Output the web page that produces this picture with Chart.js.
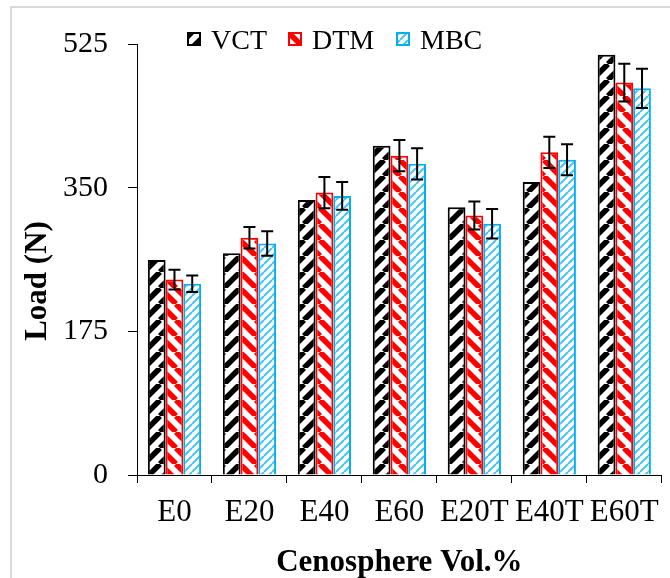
<!DOCTYPE html>
<html>
<head>
<meta charset="utf-8">
<script src="https://cdn.jsdelivr.net/npm/chart.js@4"></script>
<style>
  html, body { margin: 0; padding: 0; background: #fff; }
  #wrap { position: relative; width: 670px; height: 578px; overflow: hidden; }
  #frame { position: absolute; left: 10px; top: 6px; width: 700px; height: 620px; border: 2px solid #d9d9d9; }
  #chart { position: absolute; left: 0; top: 0; }
</style>
</head>
<body>
<div id="wrap">
  <div id="frame"></div>
  <canvas id="chart" width="670" height="578"></canvas>
</div>
<script>
// データ
const categories = ['E0', 'E20', 'E40', 'E60', 'E20T', 'E40T', 'E60T'];
const seriesNames = ['VCT', 'DTM', 'MBC'];
const vct = [262, 270, 335, 401, 326, 357, 512];
const dtm = [238, 289, 344, 389, 316, 393, 478];
const mbc = [233, 282, 340, 379, 306, 384, 471];
const dtmErr = [12, 13, 19, 19, 17, 19, 23];
const mbcErr = [10, 15, 17, 19, 18, 19, 24];
const yTicks = [0, 175, 350, 525];

// ハッチパターン
function makePattern(size, color, dir, lw) {
  const c = document.createElement('canvas');
  c.width = c.height = size;
  const g = c.getContext('2d');
  g.fillStyle = '#fff';
  g.fillRect(0, 0, size, size);
  g.strokeStyle = color;
  g.lineWidth = lw;
  for (let k = -1; k <= 1; k++) {
    g.beginPath();
    if (dir === '/') { g.moveTo(k * size, size); g.lineTo(k * size + size, 0); }
    else { g.moveTo(k * size, 0); g.lineTo(k * size + size, size); }
    g.stroke();
  }
  return g.createPattern(c, 'repeat');
}

const ctx = document.getElementById('chart').getContext('2d');
const patVCT = makePattern(16, '#000', '/', 5.5);
const patDTM = makePattern(16, '#ff0000', '\\', 5.5);
const patMBC = makePattern(8, '#4cc3f2', '/', 2);

const FONT = "'Liberation Serif', 'Times New Roman', serif";

// エラーバー・凡例・縦軸タイトル
const extras = {
  id: 'extras',
  afterDatasetsDraw(chart) {
    const c = chart.ctx;
    const y = chart.scales.y;
    const errs = [null, dtmErr, mbcErr];
    c.save();
    c.strokeStyle = '#000';
    c.lineWidth = 2;
    errs.forEach((err, di) => {
      if (!err) return;
      const meta = chart.getDatasetMeta(di);
      meta.data.forEach((bar, i) => {
        const v = chart.data.datasets[di].data[i];
        const top = y.getPixelForValue(v + err[i]);
        const bot = y.getPixelForValue(v - err[i]);
        const x = bar.x;
        c.beginPath();
        c.moveTo(x, top); c.lineTo(x, bot);
        c.moveTo(x - 6, top); c.lineTo(x + 6, top);
        c.moveTo(x - 6, bot); c.lineTo(x + 6, bot);
        c.stroke();
      });
    });
    c.restore();
  },
  afterDraw(chart) {
    const c = chart.ctx;
    c.save();
    // 凡例
    const pats = [patVCT, patDTM, patMBC];
    const borders = ['#000', '#ff0000', '#00b0f0'];
    const xs = [187, 288, 396];
    c.font = '28px ' + FONT;
    c.textBaseline = 'alphabetic';
    seriesNames.forEach((name, i) => {
      c.fillStyle = pats[i];
      c.fillRect(xs[i], 32, 14, 14);
      c.strokeStyle = borders[i];
      c.lineWidth = 2;
      c.strokeRect(xs[i] + 1, 33, 12, 12);
      c.fillStyle = '#000';
      c.fillText(name, xs[i] + 24, 49);
    });
    // 縦軸タイトル
    c.translate(38, 281);
    c.rotate(-Math.PI / 2);
    c.font = 'bold 31px ' + FONT;
    c.textAlign = 'center';
    c.textBaseline = 'middle';
    c.fillStyle = '#000';
    c.fillText('Load (N)', 0, 0);
    c.restore();
  }
};

new Chart(ctx, {
  type: 'bar',
  data: {
    labels: categories,
    datasets: [
      { label: seriesNames[0], data: vct, backgroundColor: patVCT, borderColor: '#000', borderWidth: 2 },
      { label: seriesNames[1], data: dtm, backgroundColor: patDTM, borderColor: '#ff0000', borderWidth: 2 },
      { label: seriesNames[2], data: mbc, backgroundColor: patMBC, borderColor: '#00b0f0', borderWidth: 2 }
    ]
  },
  options: {
    responsive: false,
    animation: false,
    layout: { padding: { left: 0, right: 4, top: 44, bottom: 0 } },
    datasets: { bar: { categoryPercentage: 0.71, barPercentage: 1.0 } },
    plugins: { legend: { display: false }, tooltip: { enabled: false } },
    scales: {
      x: {
        grid: { drawOnChartArea: false, color: '#000', tickLength: 8, tickColor: '#000' },
        border: { color: '#000', width: 1 },
        ticks: { color: '#000', font: { family: FONT, size: 31 }, padding: 11, maxRotation: 0, autoSkip: false },
        title: { display: true, text: 'Cenosphere Vol.%', color: '#000', font: { family: FONT, size: 31, weight: 'bold', lineHeight: 1.0 }, padding: { top: 0, bottom: 0 } },
        afterFit(s) { s.height = 103; }
      },
      y: {
        min: 0, max: 525,
        afterBuildTicks(s) { s.ticks = yTicks.map(v => ({ value: v })); },
        grid: { drawOnChartArea: false, color: '#000', tickLength: 9, tickColor: '#000' },
        border: { color: '#000', width: 1 },
        ticks: { color: '#000', font: { family: FONT, size: 30 }, padding: 20 },
        afterFit(s) { s.width = 137; }
      }
    }
  },
  plugins: [extras]
});
</script>
</body>
</html>
